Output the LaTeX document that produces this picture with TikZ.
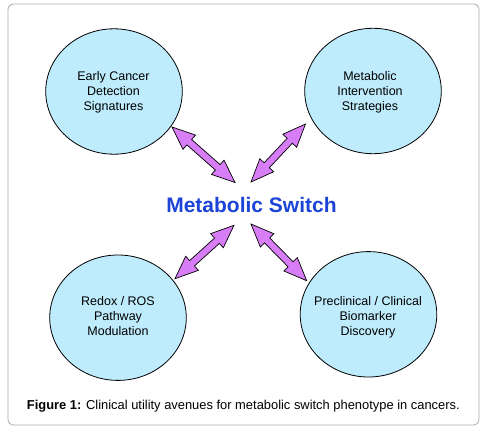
\documentclass[tikz,border=0pt]{standalone}
\usepackage{fontspec}
\setmainfont{Liberation Sans}
\usetikzlibrary{calc,shapes.geometric}
\definecolor{cellfill}{RGB}{190,236,252}
\definecolor{arrowfill}{RGB}{215,125,245}
\definecolor{titleblue}{RGB}{28,68,214}
\definecolor{framegray}{RGB}{170,170,170}
\newcommand{\hl}{23pt}
\newcommand{\hw}{9.5pt}
\newcommand{\sw}{3.6pt}
\newcommand{\blockarrow}[2]{%
  \filldraw[arrowstyle] (#1)
    -- ($(#1)!\hl!(#2)!\hw!90:(#2)$)
    -- ($(#1)!\hl!(#2)!\sw!90:(#2)$)
    -- ($(#2)!\hl!(#1)!\sw!-90:(#1)$)
    -- ($(#2)!\hl!(#1)!\hw!-90:(#1)$)
    -- (#2)
    -- ($(#2)!\hl!(#1)!\hw!90:(#1)$)
    -- ($(#2)!\hl!(#1)!\sw!90:(#1)$)
    -- ($(#1)!\hl!(#2)!\sw!-90:(#2)$)
    -- ($(#1)!\hl!(#2)!\hw!-90:(#2)$)
    -- cycle;}
\tikzset{
  cell/.style={ellipse, draw=black, line width=0.8pt, fill=cellfill,
    minimum width=136.6pt, minimum height=125.4pt, inner sep=0pt},
  celltext/.style={align=center, font=\fontsize{12.5}{15}\selectfont, inner sep=0pt},
  arrowstyle/.style={draw=black, line width=0.7pt, fill=arrowfill, line join=miter},
  frame/.style={draw=framegray, line width=0.8pt, rounded corners=5pt},
}
\begin{document}
\begin{tikzpicture}[x=1pt,y=-1pt]
\useasboundingbox (0,0) rectangle (485,431);
\draw[frame] (8,4) rectangle (479,425);

\node[cell] (tl) at (114,91.5) {};
\node[cell] (tr) at (373,91) {};
\node[cell] (bl) at (118,317.7) {};
\node[cell] (br) at (368.5,314.3) {};

\node[celltext] (tltext) at (113.5,92) {Early Cancer\\Detection\\Signatures};
\node[celltext] (trtext) at (370,92) {Metabolic\\Intervention\\Strategies};
\node[celltext] (bltext) at (118,316.5) {Redox / ROS\\Pathway\\Modulation};
\node[celltext] (brtext) at (368,317.5) {Preclinical / Clinical\\Biomarker\\Discovery};

\node[font=\fontsize{21}{25}\selectfont\bfseries, text=titleblue, inner sep=0pt] (title) at (251.5,205) {Metabolic Switch};

\coordinate (tlA) at (172,127);
\coordinate (tlB) at (235,182.5);
\coordinate (trA) at (305.5,124);
\coordinate (trB) at (251,182);
\coordinate (blA) at (234,225.3);
\coordinate (blB) at (175,278.7);
\coordinate (brA) at (251,224);
\coordinate (brB) at (306.7,280.7);

\blockarrow{tlA}{tlB}
\blockarrow{trA}{trB}
\blockarrow{blA}{blB}
\blockarrow{brA}{brB}

\node[anchor=base west, inner sep=0pt, font=\fontsize{12.9}{15}\selectfont] (caption) at (26.7,409.3) {\textbf{Figure 1:} Clinical utility avenues for metabolic switch phenotype in cancers.};
\end{tikzpicture}
\end{document}
